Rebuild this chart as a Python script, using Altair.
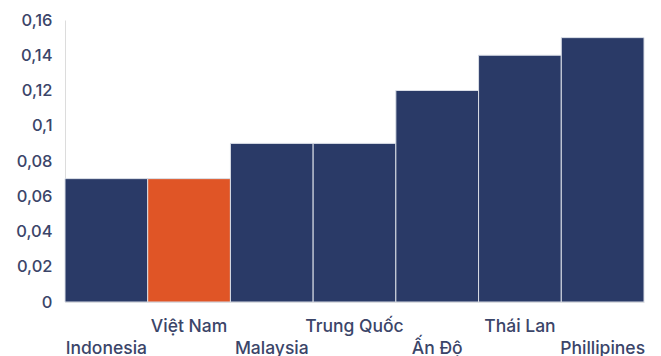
import altair as alt
import pandas as pd

countries = ["Indonesia", "Việt Nam", "Malaysia", "Trung Quốc", "Ấn Độ", "Thái Lan", "Phillipines"]
values = [0.07, 0.07, 0.09, 0.09, 0.12, 0.14, 0.15]
highlight = ["Việt Nam"]
upper_row = ["Việt Nam", "Trung Quốc", "Thái Lan"]

df = pd.DataFrame({"country": countries, "value": values})
df["group"] = ["hl" if c in highlight else "base" for c in countries]

text_color = "#3b4569"
font = "Inter"

upper_test = "indexof(" + str(upper_row).replace("'", '"') + ", datum.value) >= 0"

chart = alt.Chart(df).mark_bar(stroke="#d9dde6", strokeWidth=1).encode(
    x=alt.X(
        "country:N",
        sort=countries,
        scale=alt.Scale(paddingInner=0, paddingOuter=0),
        axis=alt.Axis(
            title=None,
            labelAngle=0,
            labelFont=font,
            labelFontSize=17.5,
            labelFontWeight=500,
            labelColor=text_color,
            labelBaseline="top",
            labelPadding={"condition": {"test": upper_test, "value": 15}, "value": 37},
            ticks=False,
            domainColor="#dcdcdc",
            labelOverlap=False,
        ),
    ),
    y=alt.Y(
        "value:Q",
        scale=alt.Scale(domain=[0, 0.16]),
        axis=alt.Axis(
            title=None,
            values=[0, 0.02, 0.04, 0.06, 0.08, 0.1, 0.12, 0.14, 0.16],
            labelExpr="replace(format(datum.value, '~g'), '.', ',')",
            labelFont=font,
            labelFontSize=16.5,
            labelFontWeight=500,
            labelColor=text_color,
            labelPadding=13,
            ticks=False,
            grid=False,
            domainColor="#dcdcdc",
        ),
    ),
    color=alt.Color(
        "group:N",
        scale=alt.Scale(domain=["base", "hl"], range=["#2a3a67", "#e05526"]),
        legend=None,
    ),
).properties(
    width=579,
    height=282,
    autosize=alt.AutoSizeParams(type="none"),
    padding={"left": 65, "top": 20, "right": 17, "bottom": 54},
).configure_view(stroke=None)

chart.save("out.html", embed_options={"renderer": "svg", "actions": False})
